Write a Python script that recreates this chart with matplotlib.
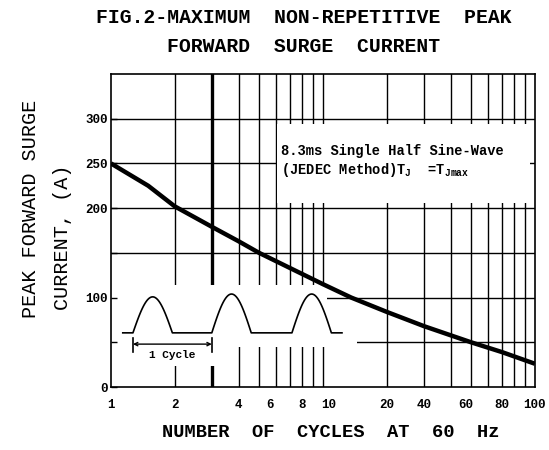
import numpy as np
import matplotlib
matplotlib.use('Agg')
import matplotlib.pyplot as plt
from matplotlib.patches import Rectangle

plt.rcParams['font.family'] = ['Liberation Mono', 'DejaVu Sans Mono']
plt.rcParams['mathtext.default'] = 'regular'

# surge current curve
cycles = [1, 1.5, 2, 3, 4, 5, 7, 10, 13.6, 20, 30, 50, 70, 100]
current = [250, 225, 202, 179, 163, 150, 133, 115, 100, 84, 68, 50, 39, 26]

grid_x = [2, 3, 4, 5, 6, 7, 8, 9, 10, 20, 30, 40, 50, 60, 70, 80, 90]
grid_y = [50, 100, 150, 200, 250, 300]

xtick_pos = [1, 2, 4, 5.6, 8, 10.6, 20, 30, 47, 70, 100]
xtick_labels = ['1', '2', '4', '6', '8', '10', '20', '40', '60', '80', '100']
ytick_pos = [0, 50, 100, 150, 200, 250, 300]
ytick_labels = ['0', '', '100', '', '200', '250', '300']

# half sine waveform sketch (axes fraction)
hump_starts = [0.052, 0.238, 0.427]
hump_width = 0.093
hump_peaks = [0.288, 0.297, 0.297]
wave_base = 0.173

fig = plt.figure(figsize=(5.49, 4.50), dpi=100)
ax = fig.add_axes([0.202, 0.14, 0.7723, 0.6956])
ax.set_xscale('log')
ax.set_xlim(1, 100)
ax.set_ylim(0, 350)
ax.set_axisbelow(False)

for gx in grid_x:
    ax.axvline(gx, color='black', lw=2.4 if gx == 3 else 1.0, zorder=1)
for gy in grid_y:
    ax.axhline(gy, color='black', lw=1.0, zorder=1)

# blank areas around the note and waveform
ax.add_patch(Rectangle((6.1, 206), 95 - 6.1, 88, color='white', zorder=1.5, lw=0))
ax.add_patch(Rectangle((1.0, 45), 10.4 - 1.0, 68.5, color='white', zorder=1.5, lw=0))
ax.add_patch(Rectangle((10.4, 47), 14.5 - 10.4, 6, color='white', zorder=1.5, lw=0))
ax.add_patch(Rectangle((1.5, 23), 3.15 - 1.5, 23, color='white', zorder=1.5, lw=0))

ax.plot(cycles, current, color='black', lw=3.2, solid_capstyle='butt',
        solid_joinstyle='round', zorder=3)

# waveform
wx = [0.028]
wy = [wave_base]
for s, pk in zip(hump_starts, hump_peaks):
    t = np.linspace(0, np.pi, 40)
    wx += list(s + hump_width * t / np.pi)
    wy += list(wave_base + (pk - wave_base) * np.sin(t))
wx.append(0.545)
wy.append(wave_base)
ax.plot(wx, wy, color='black', lw=1.2, transform=ax.transAxes, zorder=3)

x0, x1 = hump_starts[0], hump_starts[1]
ax.annotate('', xy=(x0, 0.137), xytext=(x1, 0.137), xycoords='axes fraction',
            arrowprops=dict(arrowstyle='<->', lw=1.0, color='black',
                            mutation_scale=6, shrinkA=0, shrinkB=0), zorder=3)
for xb in (x0, x1):
    ax.plot([xb, xb], [0.112, 0.157], color='black', lw=1.2,
            transform=ax.transAxes, zorder=3)
ax.text((x0 + x1) / 2, 0.103, '1 Cycle', transform=ax.transAxes, ha='center',
        va='center', fontsize=8, fontweight='bold', zorder=3)

ax.text(0.402, 0.754, '8.3ms Single Half Sine-Wave',
        transform=ax.transAxes, fontsize=9.9, fontweight='bold', va='center')
ax.text(0.402, 0.693, '(JEDEC Method)T$_J$  =T$_{Jmax}$',
        transform=ax.transAxes, fontsize=9.9, fontweight='bold', va='center')

ax.set_xticks(xtick_pos)
ax.set_xticklabels(xtick_labels)
ax.xaxis.set_minor_locator(matplotlib.ticker.NullLocator())
ax.set_yticks(ytick_pos)
ax.set_yticklabels(ytick_labels)
ax.tick_params(axis='x', length=0, pad=9, labelsize=9)
ax.tick_params(axis='y', direction='in', length=4, width=1.0, pad=2, labelsize=9)
for lab in ax.get_xticklabels() + ax.get_yticklabels():
    lab.set_fontweight('bold')
for sp in ax.spines.values():
    sp.set_linewidth(1.2)

fig.text(0.553, 0.962, 'FIG.2-MAXIMUM  NON-REPETITIVE  PEAK', ha='center',
         va='center', fontsize=14.2, fontweight='bold')
fig.text(0.553, 0.896, 'FORWARD  SURGE  CURRENT', ha='center',
         va='center', fontsize=14.2, fontweight='bold')
fig.text(0.603, 0.038, 'NUMBER  OF  CYCLES  AT  60  Hz', ha='center',
         va='center', fontsize=13.5, fontweight='bold')
fig.text(0.055, 0.293, 'PEAK FORWARD SURGE', rotation=90, ha='center',
         va='bottom', fontsize=14.5)
fig.text(0.113, 0.311, 'CURRENT, (A)', rotation=90, ha='center',
         va='bottom', fontsize=14.5)

fig.savefig('out.png', dpi=100)
